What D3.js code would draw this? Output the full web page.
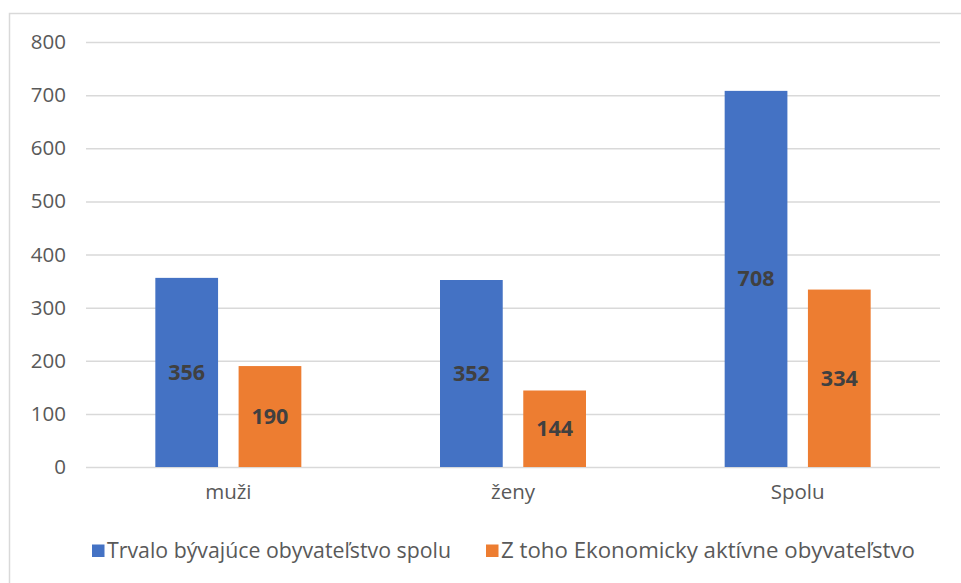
<!DOCTYPE html>
<html><head><meta charset="utf-8">
<script src="https://cdn.jsdelivr.net/npm/d3@7"></script>
<style>body{margin:0;background:#fff}svg{display:block}</style>
</head><body>
<script>
const categories = ["muži", "ženy", "Spolu"];
const seriesNames = ["Trvalo bývajúce obyvateľstvo spolu", "Z toho Ekonomicky aktívne obyvateľstvo"];
const seriesTotal = [356, 352, 708];
const seriesActive = [190, 144, 334];
const yTicks = [0, 100, 200, 300, 400, 500, 600, 700, 800];
const colors = ["#4472C4", "#ED7D31"];

(function () {
const W = 961, H = 583;
const font = "'Open Sans', sans-serif";
const svg = d3.select("body").append("svg").attr("width", W).attr("height", H);

svg.append("rect").attr("x", 9.5).attr("y", 13.5).attr("width", 1000).attr("height", 1000)
  .attr("fill", "#fff").attr("stroke", "#d9d9d9").attr("stroke-width", 1.5);

const pl = 86, pr = 940, pt = 42, pb = 467;
const x0 = d3.scaleBand().domain(categories).range([pl, pr]).paddingInner(0).paddingOuter(0);
const y = d3.scaleLinear().domain([0, 800]).range([pb, pt]);
const groupW = 146;
const x1 = d3.scaleBand().domain([0, 1]).range([0, groupW]).paddingInner(18 / 73);

const grid = svg.append("g").attr("transform", `translate(${pl},0)`)
  .call(d3.axisLeft(y).tickValues(yTicks).tickSize(-(pr - pl)).tickFormat(d3.format("d")).tickPadding(20));
grid.select(".domain").remove();
grid.selectAll(".tick line").attr("stroke", "#d9d9d9").attr("stroke-width", 1.5);
grid.selectAll(".tick text").attr("fill", "#595959").attr("font-family", font).attr("font-size", 20.5);

const data = categories.map((c, i) => ({c, vals: [seriesTotal[i], seriesActive[i]]}));
const g = svg.append("g");
const groups = g.selectAll("g").data(data).join("g")
  .attr("transform", d => `translate(${x0(d.c) + x0.bandwidth() / 2 - groupW / 2},0)`);
groups.selectAll("rect").data(d => d.vals.map((v, k) => ({v, k}))).join("rect")
  .attr("x", d => x1(d.k)).attr("width", x1.bandwidth())
  .attr("y", d => y(d.v)).attr("height", d => y(0) - y(d.v))
  .attr("fill", d => colors[d.k]);
groups.selectAll("text").data(d => d.vals.map((v, k) => ({v, k}))).join("text")
  .attr("x", d => x1(d.k) + x1.bandwidth() / 2)
  .attr("y", d => (y(d.v) + y(0)) / 2)
  .attr("dy", "0.35em").attr("text-anchor", "middle")
  .attr("font-family", font).attr("font-weight", "bold").attr("font-size", 21.5)
  .attr("fill", "#404040").text(d => d.v);

const xa = svg.append("g").attr("transform", `translate(0,${pb})`)
  .call(d3.axisBottom(x0).tickSize(0).tickPadding(20));
xa.select(".domain").remove();
xa.selectAll("text").attr("fill", "#595959").attr("font-family", font).attr("font-size", 20.5).attr("dy", "0.6em");

const lg = svg.append("g").attr("transform", "translate(0,551)");
const legX = [92, 486];
const legLen = [344, 414];
seriesNames.forEach((n, i) => {
  lg.append("rect").attr("x", legX[i]).attr("y", -6.5).attr("width", 12.5).attr("height", 12.5).attr("fill", colors[i]);
  lg.append("text").attr("x", legX[i] + 15).attr("y", 0).attr("dy", "0.35em")
    .attr("textLength", legLen[i]).attr("lengthAdjust", "spacingAndGlyphs")
    .attr("font-family", font).attr("font-size", 21).attr("fill", "#595959").text(n);
});
})();
</script>
</body></html>
